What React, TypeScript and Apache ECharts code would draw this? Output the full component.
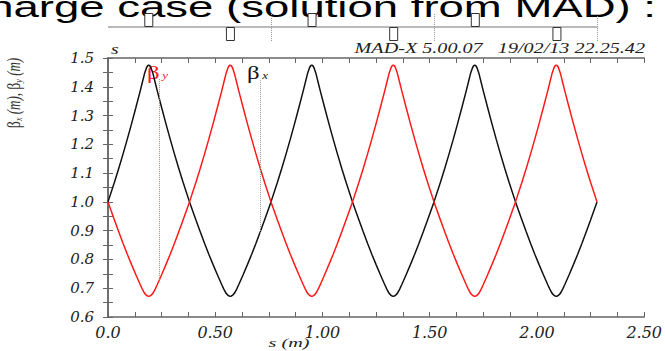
import React, { useEffect, useRef } from "react";
import * as echarts from "echarts";

// s positions along the lattice (m)
const sPositions = [
  0, 0.03, 0.05, 0.07, 0.09, 0.11, 0.13, 0.15, 0.16, 0.17, 0.18, 0.185, 0.19, 0.195, 0.2, 0.21, 0.22, 0.23, 0.25, 0.27, 0.29, 0.31, 0.33, 0.35,
  0.38, 0.41, 0.43, 0.45, 0.47, 0.49, 0.51, 0.53, 0.54, 0.55, 0.56, 0.565, 0.57, 0.575, 0.58, 0.59, 0.6, 0.61, 0.63, 0.65, 0.67, 0.69, 0.71, 0.73,
  0.76, 0.79, 0.81, 0.83, 0.85, 0.87, 0.89, 0.91, 0.92, 0.93, 0.94, 0.945, 0.95, 0.955, 0.96, 0.97, 0.98, 0.99, 1.01, 1.03, 1.05, 1.07, 1.09, 1.11,
  1.14, 1.17, 1.19, 1.21, 1.23, 1.25, 1.27, 1.29, 1.3, 1.31, 1.32, 1.325, 1.33, 1.335, 1.34, 1.35, 1.36, 1.37, 1.39, 1.41, 1.43, 1.45, 1.47, 1.49,
  1.52, 1.55, 1.57, 1.59, 1.61, 1.63, 1.65, 1.67, 1.68, 1.69, 1.7, 1.705, 1.71, 1.715, 1.72, 1.73, 1.74, 1.75, 1.77, 1.79, 1.81, 1.83, 1.85, 1.87,
  1.9, 1.93, 1.95, 1.97, 1.99, 2.01, 2.03, 2.05, 2.06, 2.07, 2.08, 2.085, 2.09, 2.095, 2.1, 2.11, 2.12, 2.13, 2.15, 2.17, 2.19, 2.21, 2.23, 2.25,
  2.28,
];

// beta_x (m), black
const betaX = [
  1.0, 1.068, 1.116, 1.166, 1.218, 1.272, 1.328, 1.385, 1.415, 1.445, 1.467, 1.473, 1.475, 1.473, 1.467, 1.445, 1.415, 1.385, 1.328, 1.272, 1.218, 1.166, 1.116, 1.068,
  1.0, 0.937, 0.896, 0.856, 0.818, 0.782, 0.747, 0.713, 0.697, 0.683, 0.675, 0.673, 0.672, 0.673, 0.675, 0.683, 0.697, 0.713, 0.747, 0.782, 0.818, 0.856, 0.896, 0.937,
  1.0, 1.068, 1.116, 1.166, 1.218, 1.272, 1.328, 1.385, 1.415, 1.445, 1.467, 1.473, 1.475, 1.473, 1.467, 1.445, 1.415, 1.385, 1.328, 1.272, 1.218, 1.166, 1.116, 1.068,
  1.0, 0.937, 0.896, 0.856, 0.818, 0.782, 0.747, 0.713, 0.697, 0.683, 0.675, 0.673, 0.672, 0.673, 0.675, 0.683, 0.697, 0.713, 0.747, 0.782, 0.818, 0.856, 0.896, 0.937,
  1.0, 1.068, 1.116, 1.166, 1.218, 1.272, 1.328, 1.385, 1.415, 1.445, 1.467, 1.473, 1.475, 1.473, 1.467, 1.445, 1.415, 1.385, 1.328, 1.272, 1.218, 1.166, 1.116, 1.068,
  1.0, 0.937, 0.896, 0.856, 0.818, 0.782, 0.747, 0.713, 0.697, 0.683, 0.675, 0.673, 0.672, 0.673, 0.675, 0.683, 0.697, 0.713, 0.747, 0.782, 0.818, 0.856, 0.896, 0.937,
  1.0,
];

// beta_y (m), red
const betaY = [
  1.0, 0.937, 0.896, 0.856, 0.818, 0.782, 0.747, 0.713, 0.697, 0.683, 0.675, 0.673, 0.672, 0.673, 0.675, 0.683, 0.697, 0.713, 0.747, 0.782, 0.818, 0.856, 0.896, 0.937,
  1.0, 1.068, 1.116, 1.166, 1.218, 1.272, 1.328, 1.385, 1.415, 1.445, 1.467, 1.473, 1.475, 1.473, 1.467, 1.445, 1.415, 1.385, 1.328, 1.272, 1.218, 1.166, 1.116, 1.068,
  1.0, 0.937, 0.896, 0.856, 0.818, 0.782, 0.747, 0.713, 0.697, 0.683, 0.675, 0.673, 0.672, 0.673, 0.675, 0.683, 0.697, 0.713, 0.747, 0.782, 0.818, 0.856, 0.896, 0.937,
  1.0, 1.068, 1.116, 1.166, 1.218, 1.272, 1.328, 1.385, 1.415, 1.445, 1.467, 1.473, 1.475, 1.473, 1.467, 1.445, 1.415, 1.385, 1.328, 1.272, 1.218, 1.166, 1.116, 1.068,
  1.0, 0.937, 0.896, 0.856, 0.818, 0.782, 0.747, 0.713, 0.697, 0.683, 0.675, 0.673, 0.672, 0.673, 0.675, 0.683, 0.697, 0.713, 0.747, 0.782, 0.818, 0.856, 0.896, 0.937,
  1.0, 1.068, 1.116, 1.166, 1.218, 1.272, 1.328, 1.385, 1.415, 1.445, 1.467, 1.473, 1.475, 1.473, 1.467, 1.445, 1.415, 1.385, 1.328, 1.272, 1.218, 1.166, 1.116, 1.068,
  1.0,
];

const xTickLabels = ["0.0", "0.50", "1.00", "1.50", "2.00", "2.50"];
const yTickLabels = ["0.6", "0.7", "0.8", "0.9", "1.0", "1.1", "1.2", "1.3", "1.4", "1.5"];

// lattice elements (m)
const focusingQuads = [0.19, 0.95, 1.71];
const defocusingQuads = [0.57, 1.33, 2.09];
const cellBoundaries = [0.76, 1.52, 2.28];
const latticeLength = 2.28;

// marker lines for the curve labels: [s, value on curve, top value]
const betaYMarker = [0.239, 0.728, 1.43];
const betaXMarker = [0.708, 0.892, 1.423];

const titleText = "charge case (solution from MAD) :";
const headerText = "MAD-X 5.00.07\u00a0\u00a0\u00a019/02/13 22.25.42";

const SERIF = '"Liberation Serif", "Times New Roman", serif';
const LABEL_SERIF = '"DejaVu Serif", serif';

export default function App() {
  const ref = useRef<HTMLDivElement>(null);

  useEffect(() => {
    if (!ref.current) return;
    const chart = echarts.init(ref.current, undefined, { renderer: "svg" });

    const blackData = sPositions.map((s, i) => [s, betaX[i]]);
    const redData = sPositions.map((s, i) => [s, betaY[i]]);
    const quadData = [
      ...focusingQuads.map((s) => [s, 1]),
      ...defocusingQuads.map((s) => [s, -1]),
    ];

    const axisLine = { show: true, lineStyle: { color: "#666", width: 1.5 } };
    const tick = { show: true, inside: true, length: 5, lineStyle: { color: "#666", width: 1 } };
    const minor = (n: number) => ({ show: true, splitNumber: n, length: 5, lineStyle: { color: "#666", width: 1 } });

    const option: any = {
      animation: false,
      backgroundColor: "#fff",
      grid: [
        { left: 108, right: 20, top: 58, bottom: 34 },
        { left: 108, right: 20, top: 13, height: 28 },
      ],
      xAxis: [
        {
          type: "value", gridIndex: 0, position: "bottom", min: 0, max: 2.5, interval: 0.5,
          axisLine, axisTick: tick, minorTick: minor(4),
          splitLine: { show: false },
          axisLabel: {
            margin: 7,
            color: "#222",
            fontFamily: LABEL_SERIF,
            fontStyle: "italic",
            fontSize: 16,
            formatter: (v: number) => xTickLabels[Math.round(v / 0.5)] ?? "",
          },
        },
        {
          type: "value", gridIndex: 0, position: "top", min: 0, max: 2.5, interval: 0.5,
          axisLine, axisTick: tick, minorTick: minor(4),
          splitLine: { show: false }, axisLabel: { show: false },
        },
        {
          type: "value", gridIndex: 1, min: 0, max: 2.5, show: false,
        },
      ],
      yAxis: [
        {
          type: "value", gridIndex: 0, position: "left", min: 0.6, max: 1.5, interval: 0.1,
          axisLine, axisTick: tick, minorTick: minor(2),
          splitLine: { show: false },
          axisLabel: {
            margin: 14,
            color: "#222",
            fontFamily: LABEL_SERIF,
            fontStyle: "italic",
            fontSize: 15,
            formatter: (v: number) => yTickLabels[Math.round((v - 0.6) / 0.1)] ?? "",
          },
        },
        {
          type: "value", gridIndex: 0, position: "right", min: 0.6, max: 1.5, interval: 0.1,
          axisLine, axisTick: tick, minorTick: minor(2),
          splitLine: { show: false }, axisLabel: { show: false },
        },
        {
          type: "value", gridIndex: 1, min: -1, max: 1, show: false,
        },
      ],
      series: [
        {
          type: "line", xAxisIndex: 0, yAxisIndex: 0, data: blackData,
          symbol: "none", lineStyle: { color: "#111", width: 1.5 }, z: 3,
          markLine: {
            silent: true, symbol: "none", label: { show: false },
            lineStyle: { color: "#999", type: "dotted", width: 1 },
            data: [[{ coord: [betaXMarker[0], betaXMarker[1]] }, { coord: [betaXMarker[0], betaXMarker[2]] }]],
          },
        },
        {
          type: "line", xAxisIndex: 0, yAxisIndex: 0, data: redData,
          symbol: "none", lineStyle: { color: "#ff1a1a", width: 1.5 }, z: 4,
          markLine: {
            silent: true, symbol: "none", label: { show: false },
            lineStyle: { color: "#ff6666", type: "dotted", width: 1 },
            data: [[{ coord: [betaYMarker[0], betaYMarker[1]] }, { coord: [betaYMarker[0], betaYMarker[2]] }]],
          },
        },
        {
          type: "line", xAxisIndex: 2, yAxisIndex: 2, data: [[0, 0], [latticeLength, 0]],
          symbol: "none", lineStyle: { color: "#777", width: 1.2 }, z: 1,
          markLine: {
            silent: true, symbol: "none", label: { show: false },
            lineStyle: { color: "#999", type: "dotted", width: 1 },
            data: cellBoundaries.map((s) => ({ xAxis: s })),
          },
        },
        {
          type: "bar", xAxisIndex: 2, yAxisIndex: 2, data: quadData, barWidth: 9,
          itemStyle: { color: "#fff", borderColor: "#333", borderWidth: 1 }, z: 2,
        },
      ],
      graphic: [
        {
          type: "text", x: 656, y: 7, scaleX: 1.57,
          style: { text: titleText, fontFamily: '"Liberation Sans", Arial, sans-serif', fontSize: 29, fill: "#000", align: "right", verticalAlign: "middle" },
        },
        {
          type: "text", x: 645, y: 49, scaleX: 1.44,
          style: { text: headerText, fontFamily: SERIF, fontStyle: "italic", fontSize: 14, fill: "#222", align: "right", verticalAlign: "middle" },
        },
        {
          type: "text", x: 111, y: 49, scaleX: 1.4,
          style: { text: "s", fontFamily: SERIF, fontStyle: "italic", fontSize: 14, fill: "#222", align: "left", verticalAlign: "middle" },
        },
        {
          type: "text", x: 289, y: 343, scaleX: 1.55,
          style: { text: "s (m)", fontFamily: SERIF, fontStyle: "italic", fontSize: 13, fill: "#222", align: "center", verticalAlign: "middle" },
        },
        {
          type: "text", x: 14, y: 93, rotation: Math.PI / 2, scaleY: 1.4,
          style: {
            text: "{b|β}{s|x}{i| (m), }{b|β}{s|y}{i| (m)}",
            align: "center", verticalAlign: "middle", fill: "#333",
            rich: {
              b: { fontFamily: SERIF, fontSize: 14, fill: "#333" },
              s: { fontFamily: SERIF, fontStyle: "italic", fontSize: 8, fill: "#333", padding: [6, 0, 0, 0] },
              i: { fontFamily: SERIF, fontStyle: "italic", fontSize: 13, fill: "#333" },
            },
          },
        },
        {
          type: "text", x: 147, y: 73, scaleX: 1.3,
          style: {
            text: "{b|β}{s|y}", align: "left", verticalAlign: "middle",
            rich: {
              b: { fontFamily: SERIF, fontSize: 19, fill: "#ff1a1a" },
              s: { fontFamily: SERIF, fontStyle: "italic", fontSize: 10, fill: "#ff1a1a", padding: [6, 0, 0, 2] },
            },
          },
        },
        {
          type: "text", x: 247, y: 73, scaleX: 1.3,
          style: {
            text: "{b|β}{s|x}", align: "left", verticalAlign: "middle",
            rich: {
              b: { fontFamily: SERIF, fontSize: 19, fill: "#111" },
              s: { fontFamily: SERIF, fontStyle: "italic", fontSize: 10, fill: "#111", padding: [6, 0, 0, 2] },
            },
          },
        },
      ],
    };

    chart.setOption(option);
    return () => chart.dispose();
  }, []);

  return (
    <div
      ref={ref}
      style={{ position: "fixed", left: 0, top: 0, width: 665, height: 351, background: "#fff" }}
    />
  );
}
